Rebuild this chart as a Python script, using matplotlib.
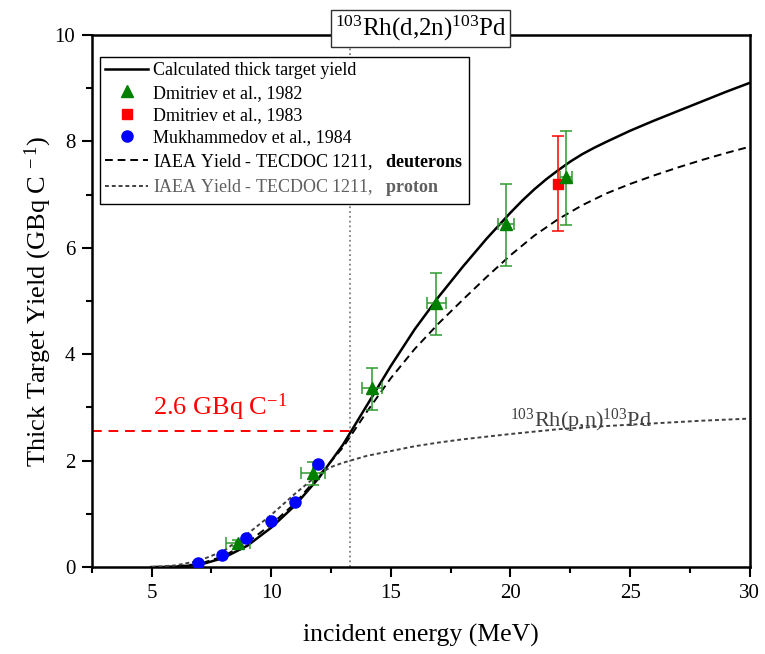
import numpy as np
import matplotlib
matplotlib.use("Agg")
import matplotlib.pyplot as plt
from matplotlib.ticker import MultipleLocator

plt.rcParams['font.family'] = ['Liberation Serif', 'DejaVu Serif']
plt.rcParams['mathtext.fontset'] = 'custom'
plt.rcParams['mathtext.rm'] = 'Liberation Serif'
plt.rcParams['mathtext.it'] = 'Liberation Serif:italic'
plt.rcParams['mathtext.bf'] = 'Liberation Serif:bold'

# 计算的厚靶产额曲线 (MeV, GBq/C)
calc_E = [5, 5.5, 6, 7, 8, 9, 10, 11, 12, 13, 14, 15, 16, 17, 18, 19, 20,
          20.5, 21, 21.5, 22, 22.5, 23, 23.5, 24, 25, 26, 27, 28, 29, 30]
calc_Y = [0.0, 0.0, 0.005, 0.04, 0.17, 0.40, 0.74, 1.16, 1.68, 2.30, 3.04, 3.78,
          4.47, 5.08, 5.64, 6.17, 6.66, 6.89, 7.10, 7.29, 7.46, 7.62, 7.76,
          7.88, 7.99, 8.20, 8.39, 8.57, 8.75, 8.93, 9.10]

# IAEA TECDOC 1211 氘核
iaea_d_E = [5, 6, 7, 8, 9, 10, 11, 12, 13, 14, 15, 16, 17, 18, 19, 20,
            21, 22, 23, 24, 25, 26, 27, 28, 29, 30]
iaea_d_Y = [0.0, 0.01, 0.06, 0.20, 0.46, 0.80, 1.20, 1.72, 2.25, 2.92, 3.55,
            4.10, 4.58, 5.02, 5.45, 5.86, 6.23, 6.54, 6.80, 7.02, 7.20, 7.36,
            7.51, 7.65, 7.78, 7.90]

# IAEA TECDOC 1211 质子
iaea_p_E = [5, 6, 7, 8, 9, 10, 11, 12, 12.5, 13, 14, 15, 16, 17, 18, 19, 20,
            22, 24, 26, 28, 30]
iaea_p_Y = [0.0, 0.03, 0.12, 0.30, 0.62, 0.98, 1.38, 1.75, 1.88, 1.96, 2.09,
            2.18, 2.27, 2.34, 2.40, 2.45, 2.50, 2.59, 2.65, 2.70, 2.75, 2.79]

# Dmitriev 1982
dm82_E = [8.62, 11.76, 14.2, 16.9, 19.8, 22.32]
dm82_Y = [0.45, 1.77, 3.36, 4.97, 6.44, 7.34]
dm82_xerr = [0.5, 0.5, 0.42, 0.4, 0.33, 0.27]
dm82_ylo = [0.06, 0.23, 0.41, 0.61, 0.78, 0.91]
dm82_yhi = [0.06, 0.21, 0.38, 0.56, 0.76, 0.86]

# Dmitriev 1983
dm83_E = [22.0]
dm83_Y = [7.2]
dm83_ylo = [0.88]
dm83_yhi = [0.9]

# Mukhammedov 1984
mu84_E = [6.96, 7.96, 8.94, 9.99, 10.99, 11.97]
mu84_Y = [0.07, 0.22, 0.54, 0.87, 1.23, 1.94]

target_E = 13.3
target_Y = 2.55

fig = plt.figure(figsize=(7.65, 6.54), dpi=100)
ax = fig.add_axes([0.120, 0.133, 0.860, 0.8135])

ax.axvline(target_E, color='#808080', ls=':', lw=1.3, zorder=1)
ax.plot([2.5, target_E], [target_Y, target_Y], color='red', ls=(0, (5, 3.5)), lw=1.4, zorder=2)

ax.plot(calc_E, calc_Y, color='black', lw=1.8, label='Calculated thick target yield', zorder=3)

ax.errorbar(dm82_E, dm82_Y, xerr=dm82_xerr, yerr=[dm82_ylo, dm82_yhi], fmt='none',
            ecolor='#2e9a2e', elinewidth=1.1, capsize=4, capthick=1.1, zorder=4)
h82, = ax.plot(dm82_E, dm82_Y, '^', color='#008000', ms=9, ls='none',
               label='Dmitriev et al., 1982', zorder=6)
ax.errorbar(dm83_E, dm83_Y, yerr=[dm83_ylo, dm83_yhi], fmt='none',
            ecolor='red', elinewidth=1.1, capsize=4, capthick=1.1, zorder=4)
h83, = ax.plot(dm83_E, dm83_Y, 's', color='red', ms=7, ls='none',
               label='Dmitriev et al., 1983', zorder=5)
hmu, = ax.plot(mu84_E, mu84_Y, 'o', color='blue', ms=8, ls='none',
               label='Mukhammedov et al., 1984', zorder=6)

ax.plot(iaea_d_E, iaea_d_Y, color='black', ls=(0, (4, 2.5)), lw=1.4,
        label=r'IAEA Yield - TECDOC 1211,   $\mathbf{deuterons}$', zorder=3)
ax.plot(iaea_p_E, iaea_p_Y, color='#404040', ls=(0, (2, 1.5)), lw=1.4,
        label=r'IAEA Yield - TECDOC 1211,   $\mathbf{proton}$', zorder=3)

ax.text(5.05, 2.86, r'2.6 GBq C$^{-1}$', color='red', fontsize=19, va='baseline', ha='left')
ax.text(20.0, 2.64, r'$^{103}$Rh(p,n)$^{103}$Pd', color='#404040', fontsize=16,
        va='baseline', ha='left')

ax.text(0.5, 1.012, r'$^{103}$Rh(d,2n)$^{103}$Pd', transform=ax.transAxes, fontsize=18,
        ha='center', va='center', zorder=10,
        bbox=dict(boxstyle='square,pad=0.15', fc='white', ec='#303030', lw=1.0))

ax.set_xlim(2.5, 30)
ax.set_ylim(0, 10)
ax.xaxis.set_major_locator(MultipleLocator(5))
ax.xaxis.set_minor_locator(MultipleLocator(2.5))
ax.yaxis.set_major_locator(MultipleLocator(2))
ax.yaxis.set_minor_locator(MultipleLocator(1))
ax.tick_params(which='both', direction='out', top=False, right=False, width=1.5)
ax.tick_params(which='major', length=7, labelsize=15, pad=5)
ax.tick_params(which='minor', length=4)
for s in ax.spines.values():
    s.set_linewidth(1.8)

ax.set_xlabel('incident energy (MeV)', fontsize=18.5, labelpad=15)
ax.set_ylabel(r'Thick Target Yield (GBq C$^{\ -1}$)', fontsize=19, labelpad=0)

leg = ax.legend(loc='upper left', bbox_to_anchor=(0.012, 0.959), fontsize=13,
                frameon=True, fancybox=False, edgecolor='black', framealpha=1,
                handlelength=2.4, labelspacing=0.3, borderpad=0.3, borderaxespad=0,
                handletextpad=0.25)
leg.get_frame().set_linewidth(1.0)
leg.set_zorder(8)
leg.get_texts()[-1].set_color('#606060')

fig.savefig('out.png', dpi=100)
